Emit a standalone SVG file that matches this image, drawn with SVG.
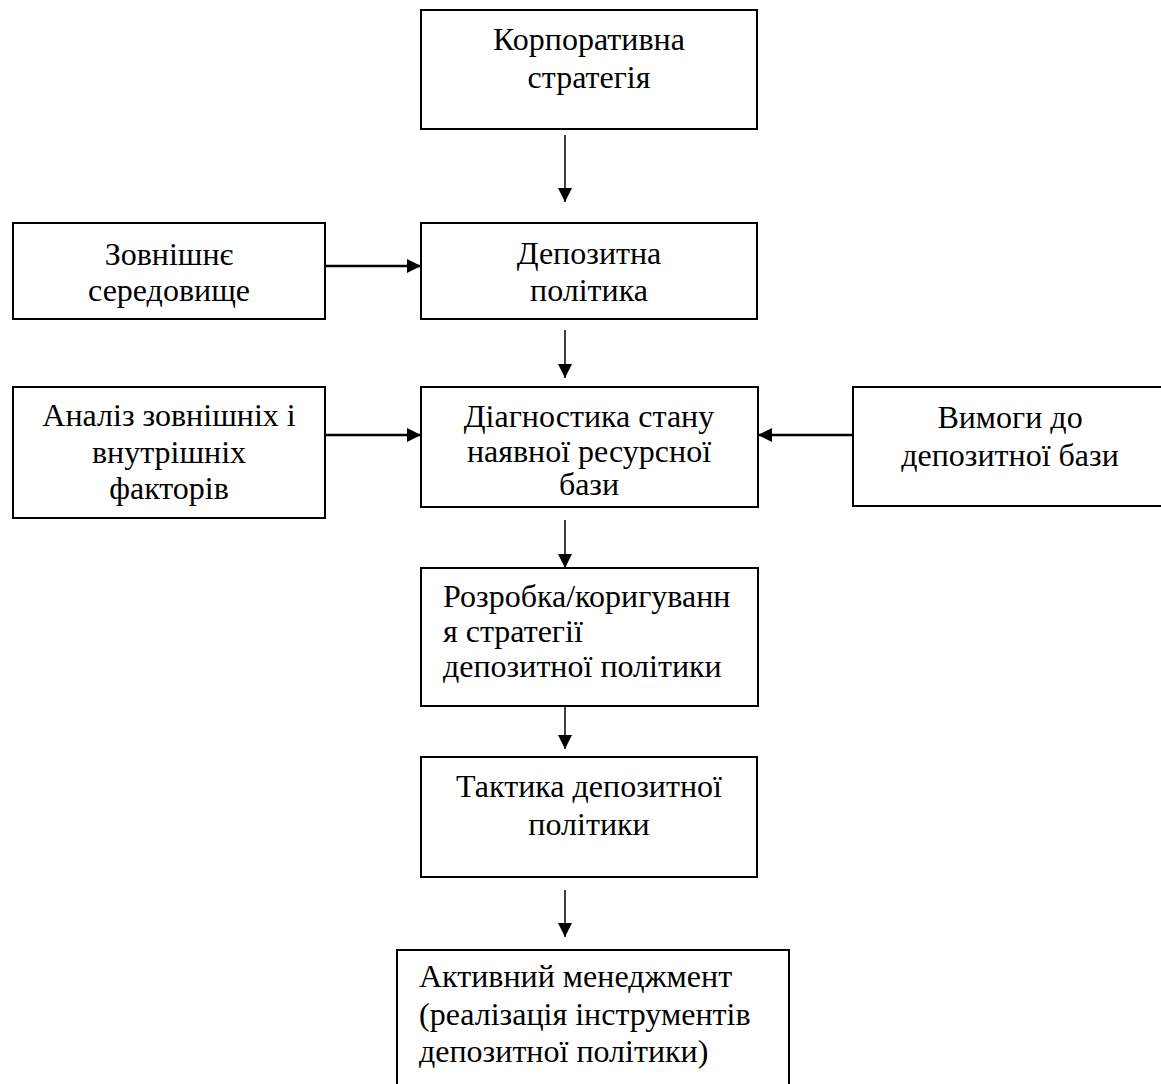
<svg xmlns="http://www.w3.org/2000/svg" width="1161" height="1084" viewBox="0 0 1161 1084">
<defs>
<style>
.box{fill:#fff;stroke:#000;stroke-width:2}
.t{font-family:"Liberation Serif","Times New Roman",serif;font-size:32px;fill:#000}
.c{text-anchor:middle}
.v{stroke:#000;stroke-width:1.5;fill:none}
.h{stroke:#000;stroke-width:2.5;fill:none}
</style>
<marker id="ah" viewBox="0 0 10 10" refX="10" refY="5" markerUnits="userSpaceOnUse" markerWidth="14" markerHeight="14" orient="auto">
<path d="M0,0 L10,5 L0,10 Z" fill="#000"/>
</marker>
</defs>
<rect width="1161" height="1084" fill="#fff"/>
<g id="connectors">
<line class="v" x1="565" y1="135" x2="565" y2="202" marker-end="url(#ah)"/>
<line class="h" x1="325" y1="266" x2="421" y2="266" marker-end="url(#ah)"/>
<line class="v" x1="565" y1="330" x2="565" y2="378" marker-end="url(#ah)"/>
<line class="h" x1="325" y1="435" x2="421" y2="435" marker-end="url(#ah)"/>
<line class="h" x1="853" y1="435" x2="758" y2="435" marker-end="url(#ah)"/>
<line class="v" x1="565" y1="520" x2="565" y2="568" marker-end="url(#ah)"/>
<line class="v" x1="565" y1="702" x2="565" y2="749" marker-end="url(#ah)"/>
<line class="v" x1="565" y1="890" x2="565" y2="937" marker-end="url(#ah)"/>
</g>
<g id="n1"><rect class="box" x="421" y="10" width="336" height="119"/>
<text class="t c" x="589" y="50">Корпоративна</text><text class="t c" x="589" y="88">стратегія</text></g>
<g id="n2"><rect class="box" x="13" y="223" width="312" height="96"/>
<text class="t c" x="169" y="265">Зовнішнє</text><text class="t c" x="169" y="301">середовище</text></g>
<g id="n3"><rect class="box" x="421" y="223" width="336" height="96"/>
<text class="t c" x="589" y="264">Депозитна</text><text class="t c" x="589" y="301">політика</text></g>
<g id="n4"><rect class="box" x="13" y="387" width="312" height="131"/>
<text class="t c" x="169" y="426">Аналіз зовнішніх і</text><text class="t c" x="169" y="463">внутрішніх</text><text class="t c" x="169" y="499">факторів</text></g>
<g id="n5"><rect class="box" x="421" y="387" width="337" height="120"/>
<text class="t c" x="589" y="427">Діагностика стану</text><text class="t c" x="589" y="462">наявної ресурсної</text><text class="t c" x="589" y="495">бази</text></g>
<g id="n6"><rect class="box" x="853" y="387" width="315" height="119"/>
<text class="t c" x="1010" y="428">Вимоги до</text><text class="t c" x="1010" y="466">депозитної бази</text></g>
<g id="n7"><rect class="box" x="421" y="568" width="337" height="138"/>
<text class="t" x="443" y="607">Розробка/коригуванн</text><text class="t" x="443" y="642">я стратегії</text><text class="t" x="443" y="677">депозитної політики</text></g>
<g id="n8"><rect class="box" x="421" y="757" width="336" height="120"/>
<text class="t c" x="589" y="797">Тактика депозитної</text><text class="t c" x="589" y="835">політики</text></g>
<g id="n9"><rect class="box" x="397" y="950" width="392" height="140"/>
<text class="t" x="419" y="987">Активний менеджмент</text><text class="t" x="419" y="1025">(реалізація інструментів</text><text class="t" x="419" y="1062">депозитної політики)</text></g>
</svg>
